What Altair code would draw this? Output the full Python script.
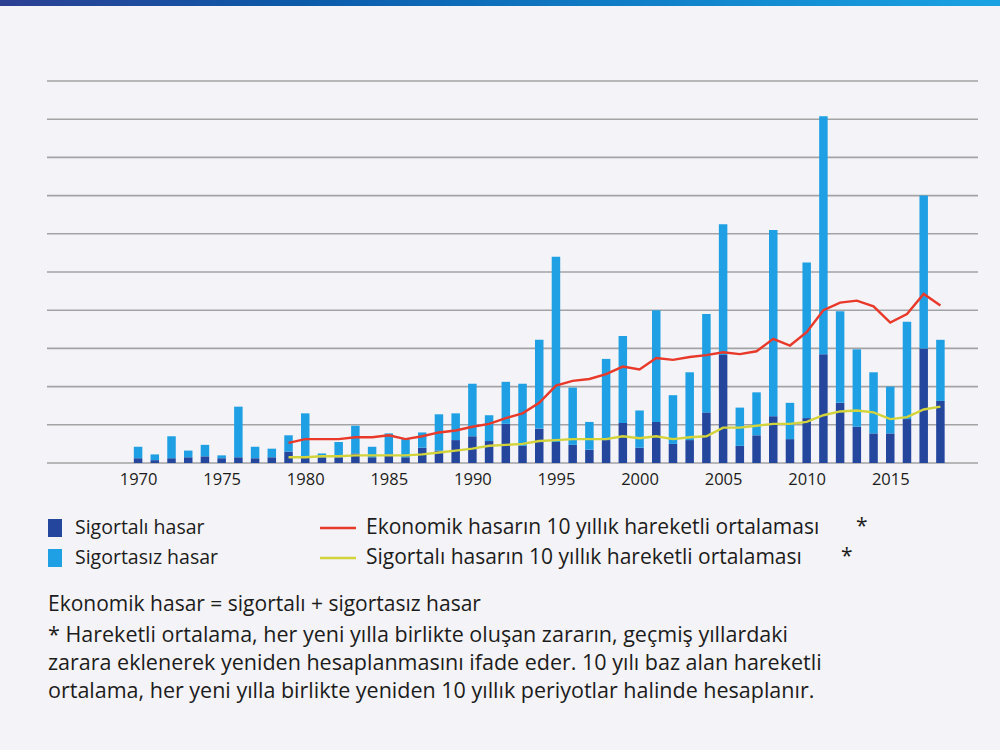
import altair as alt
import pandas as pd

years = list(range(1970, 2019))
# insured losses (bn USD)
sigortali = [5, 3, 5, 6, 7, 5, 6, 5, 6, 12,
             6, 6, 6, 10, 6, 9, 6, 16, 13, 24,
             28, 23, 41, 18, 36, 22, 19, 14, 24, 42,
             16, 43, 20, 24, 53, 113, 18, 29, 49, 25,
             47, 114, 63, 38, 31, 31, 46, 120, 65]
# uninsured losses
sigortasiz = [12, 6, 23, 7, 12, 3, 53, 12, 9, 17,
              46, 4, 16, 29, 11, 22, 19, 16, 38, 28,
              55, 27, 44, 65, 93, 194, 60, 29, 85, 91,
              39, 117, 51, 71, 103, 137, 40, 45, 195, 38,
              163, 249, 96, 81, 64, 49, 102, 160, 64]
ma_years = list(range(1979, 2019))
ekonomik_ma = [21, 25, 25, 25, 27, 27, 29, 25, 28, 32,
               34, 38, 41, 47, 52, 63, 81, 86, 88, 93,
               101, 98, 110, 108, 111, 113, 116, 114, 117, 130,
               123, 137, 160, 168, 170, 164, 147, 156, 177, 165]
sigortali_ma = [6, 6, 7, 7, 8, 8, 8, 8, 9, 11,
                13, 15, 18, 19, 20, 23, 24, 25, 25, 25,
                28, 26, 28, 25, 27, 28, 37, 37, 39, 41,
                41, 43, 50, 54, 55, 53, 46, 48, 56, 59]
x_ticks = [1970, 1975, 1980, 1985, 1990, 1995, 2000, 2005, 2010, 2015]
grid_values = list(range(0, 401, 40))

legend_labels = ["Sigortalı hasar", "Sigortasız hasar",
                 "Ekonomik hasarın 10 yıllık hareketli ortalaması",
                 "Sigortalı hasarın 10 yıllık hareketli ortalaması"]
footnotes = ["Ekonomik hasar = sigortalı + sigortasız hasar",
             "* Hareketli ortalama, her yeni yılla birlikte oluşan zararın, geçmiş yıllardaki",
             "zarara eklenerek yeniden hesaplanmasını ifade eder. 10 yılı baz alan hareketli",
             "ortalama, her yeni yılla birlikte yeniden 10 yıllık periyotlar halinde hesaplanır."]

DARK = "#24479d"
LIGHT = "#1fa0e4"
RED = "#e8392a"
YELLOW = "#d3d33c"
FONT = "Open Sans"
TXT = "#1c1c1c"

bars = pd.DataFrame({
    "year": years * 2,
    "value": sigortali + sigortasiz,
    "tip": ["Sigortalı"] * len(years) + ["Sigortasız"] * len(years),
    "ord": [0] * len(years) + [1] * len(years),
})
ma = pd.DataFrame({"year": ma_years, "eko": ekonomik_ma, "sig": sigortali_ma})
grid = pd.DataFrame({"g": grid_values})

xscale = alt.Scale(domain=[1964.85, 2019.95], nice=False, zero=False)
yscale = alt.Scale(domain=[0, 400], nice=False)
xaxis = alt.Axis(values=x_ticks, format="d", title=None, grid=False,
                 domain=False, ticks=False, labelFontSize=16.5,
                 labelFont=FONT, labelColor=TXT, labelPadding=8)

grid_layer = alt.Chart(grid).mark_rule(color="#a3a3a5", strokeWidth=1.6).encode(
    y=alt.Y("g:Q", scale=yscale, axis=None))

bar_layer = alt.Chart(bars).mark_bar(size=8.5).encode(
    x=alt.X("year:Q", scale=xscale, axis=xaxis),
    y=alt.Y("value:Q", stack="zero", scale=yscale, axis=None),
    color=alt.Color("tip:N", scale=alt.Scale(domain=["Sigortalı", "Sigortasız"],
                                             range=[DARK, LIGHT]), legend=None),
    order=alt.Order("ord:Q"),
)

red_line = alt.Chart(ma).mark_line(color=RED, strokeWidth=2.4).encode(
    x=alt.X("year:Q", scale=xscale, axis=xaxis), y=alt.Y("eko:Q", scale=yscale, axis=None))
yel_line = alt.Chart(ma).mark_line(color=YELLOW, strokeWidth=2.4).encode(
    x=alt.X("year:Q", scale=xscale, axis=xaxis), y=alt.Y("sig:Q", scale=yscale, axis=None))

one = pd.DataFrame({"k": [0]})

def rect(x, x2, y, y2, fill):
    return alt.Chart(one).mark_rect(fill=fill).encode(
        x=alt.value(x), x2=alt.value(x2), y=alt.value(y), y2=alt.value(y2))

def rule(x, x2, y, color):
    return alt.Chart(one).mark_rule(color=color, strokeWidth=2.4).encode(
        x=alt.value(x), x2=alt.value(x2), y=alt.value(y))

def text(x, y, s, size):
    return alt.Chart(one).mark_text(align="left", baseline="middle", font=FONT,
                                    fontSize=size, color=TXT).encode(
        x=alt.value(x), y=alt.value(y), text=alt.value(s))

grad = alt.Gradient(
    gradient="linear",
    stops=[alt.GradientStop(color="#2c3f93", offset=0),
           alt.GradientStop(color="#0b5aaa", offset=0.3),
           alt.GradientStop(color="#1080c8", offset=0.65),
           alt.GradientStop(color="#1aa3e3", offset=1)],
    x1=0, x2=1, y1=0, y2=0)

top_bar = alt.Chart(one).mark_rect(fill=grad).encode(
    x=alt.value(-47), x2=alt.value(953), y=alt.value(-81), y2=alt.value(-75))

extras = [
    top_bar,
    rect(1, 15, 438, 456, DARK),
    rect(1, 15, 468, 486, LIGHT),
    text(28, 447, legend_labels[0], 19.5),
    text(28, 477, legend_labels[1], 19.5),
    rule(273, 309, 447, RED),
    rule(273, 309, 477, YELLOW),
    text(319, 447, legend_labels[2], 21),
    text(319, 477, legend_labels[3], 21),
    text(809, 446, "*", 21),
    text(794, 476, "*", 21),
    text(1, 524, footnotes[0], 21),
    text(1, 555, footnotes[1], 21.5),
    text(1, 583, footnotes[2], 21.5),
    text(1, 611, footnotes[3], 21.5),
]

chart = alt.layer(grid_layer, bar_layer, red_line, yel_line, *extras).properties(
    width=931, height=382,
    padding={"left": 47, "top": 81, "right": 22, "bottom": 287},
    autosize=alt.AutoSizeParams(type="none"),
).configure(background="#f4f3f7").configure_view(strokeWidth=0)

chart.save("out.html", embed_options={"renderer": "svg", "actions": False})
